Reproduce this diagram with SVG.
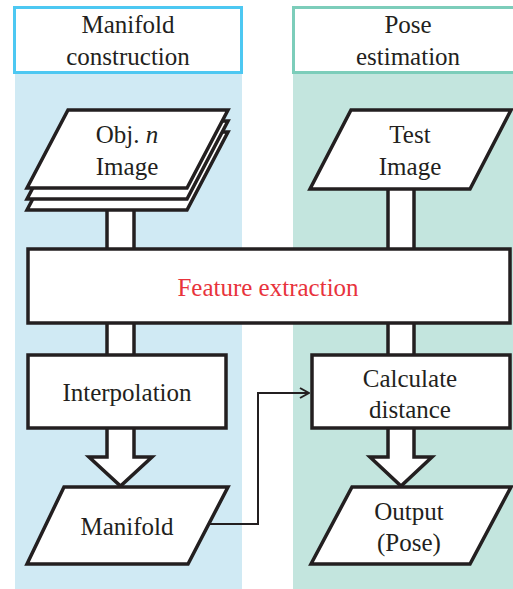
<svg xmlns="http://www.w3.org/2000/svg" width="513" height="589" viewBox="0 0 513 589">
<style>
text{font-family:'Liberation Serif','Times New Roman',Times,'DejaVu Serif','Noto Serif',serif}
.t{font-size:25px;fill:#231F20;text-anchor:middle}
.red{fill:#E8333C}
.shape{fill:#fff;stroke:#231F20;stroke-width:3.5;stroke-linejoin:miter}
.pipe{fill:#fff;stroke:#231F20;stroke-width:3.5}
.conn{fill:none;stroke:#231F20;stroke-width:2}
</style>
<defs>
<marker id="arr" viewBox="0 0 12 12" refX="11" refY="6" markerWidth="12" markerHeight="12" markerUnits="userSpaceOnUse" orient="auto">
<polyline points="2,1 11,6 2,11" fill="none" stroke="#231F20" stroke-width="2"/>
</marker>
</defs>
<rect width="513" height="589" fill="#fff"/>
<rect id="laneLeft" x="15" y="72" width="227" height="517" fill="#D0EAF4"/>
<rect id="laneRight" x="293" y="72" width="220" height="517" fill="#C3E5DE"/>

<g id="headerLeft">
<rect x="14.5" y="7.5" width="227" height="65" fill="#fff" stroke="#4DC8F2" stroke-width="3"/>
<text class="t" x="128" y="33">Manifold</text>
<text class="t" x="128" y="65">construction</text>
</g>
<g id="headerRight">
<rect x="293.5" y="7.5" width="225" height="65" fill="#fff" stroke="#7CCDBA" stroke-width="3"/>
<text class="t" x="408" y="33">Pose</text>
<text class="t" x="408" y="65">estimation</text>
</g>

<g id="connectors">
<rect class="pipe" x="107" y="200" width="27" height="50"/>
<rect class="pipe" x="388" y="180" width="26" height="70"/>
<rect class="pipe" x="107" y="320" width="27" height="36"/>
<rect class="pipe" x="388" y="320" width="26" height="36"/>
<polygon class="shape" points="107,426 134,426 134,457 152,457 120.5,486 89,457 107,457"/>
<polygon class="shape" points="388,426 414,426 414,457 432,457 401,486 370,457 388,457"/>
<polyline class="conn" points="207,524 258,524 258,393 309,393" marker-end="url(#arr)"/>
</g>

<g id="objImage">
<polygon class="shape" points="68,132 228,132 187,210 27,210"/>
<polygon class="shape" points="68,121 228,121 187,199 27,199"/>
<polygon class="shape" points="68,110 228,110 187,188 27,188"/>
<text class="t" x="127" y="143">Obj. <tspan font-style="italic">n</tspan></text>
<text class="t" x="127" y="175">Image</text>
</g>

<g id="testImage">
<polygon class="shape" points="351,110 511,110 470,189 310,189"/>
<text class="t" x="410" y="143">Test</text>
<text class="t" x="410" y="175">Image</text>
</g>

<g id="featureExtraction">
<rect class="shape" x="28" y="249" width="482" height="74"/>
<text class="t red" x="268" y="296">Feature extraction</text>
</g>

<g id="interpolation">
<rect class="shape" x="28" y="355" width="198" height="73"/>
<text class="t" x="127" y="401">Interpolation</text>
</g>

<g id="calculateDistance">
<rect class="shape" x="312" y="355" width="198" height="73"/>
<text class="t" x="410" y="387">Calculate</text>
<text class="t" x="410" y="418">distance</text>
</g>

<g id="manifold">
<polygon class="shape" points="64,487 228,487 188,564 27,564"/>
<text class="t" x="127" y="535">Manifold</text>
</g>

<g id="output">
<polygon class="shape" points="352,487 511,487 470,564 311,564"/>
<text class="t" x="409" y="520">Output</text>
<text class="t" x="409" y="551">(Pose)</text>
</g>
</svg>
